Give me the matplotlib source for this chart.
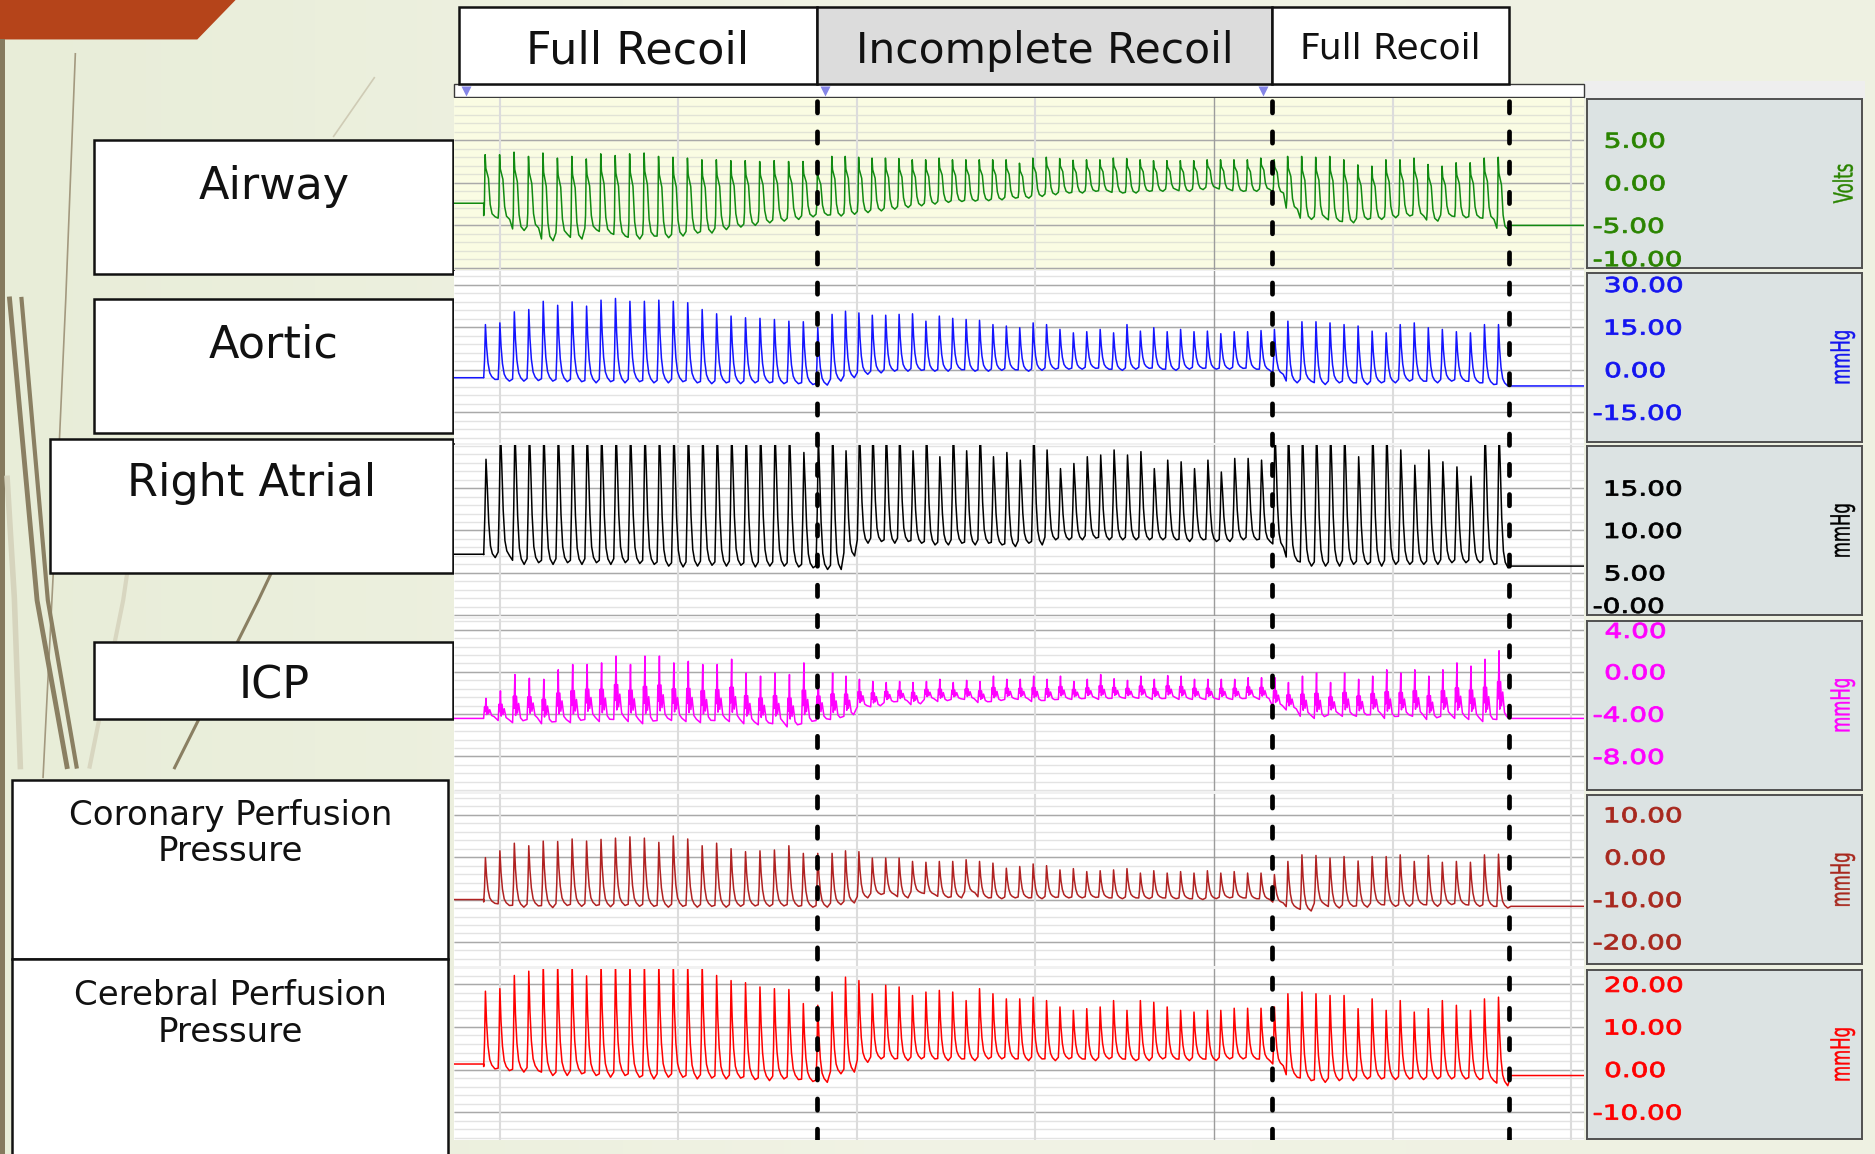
import numpy as np
import matplotlib
matplotlib.use("Agg")
import matplotlib.pyplot as plt
from matplotlib.patches import Rectangle, Polygon, PathPatch
from matplotlib.textpath import TextPath
from matplotlib.font_manager import FontProperties
from matplotlib.transforms import Affine2D

# ---------------- recording data ----------------
RECOIL_LABELS = ["Full Recoil", "Incomplete Recoil", "Full Recoil"]
RECOIL_EDGES = [-1.14, 8.87, 21.63, 28.26]          # s
BEAT_SPANS = [(-0.45, 9.26, 24), (9.26, 22.02, 34), (22.02, 28.31, 16)]  # start, end, beats
T_MIN, T_MAX = -1.27, 30.37

CHANNELS = ["Airway", "Aortic", "Right Atrial", "ICP",
            "Coronary Perfusion\nPressure", "Cerebral Perfusion\nPressure"]
UNITS = ["Volts", "mmHg", "mmHg", "mmHg", "mmHg", "mmHg"]
Y_LIMITS = [(-10.2, 9.95), (-25.8, 34.6), (-0.14, 20.1),
            (-11.27, 4.96), (-25.6, 14.9), (-16.6, 23.7)]
Y_TICKS = [[5, 0, -5, -10], [30, 15, 0, -15], [15, 10, 5, 0],
           [4, 0, -4, -8], [10, 0, -10, -20], [20, 10, 0, -10]]
Y_TICK_LABELS = [["5.00", "0.00", "-5.00", "-10.00"],
                 ["30.00", "15.00", "0.00", "-15.00"],
                 ["15.00", "10.00", "5.00", "-0.00"],
                 ["4.00", "0.00", "-4.00", "-8.00"],
                 ["10.00", "0.00", "-10.00", "-20.00"],
                 ["20.00", "10.00", "0.00", "-10.00"]]
MINOR_STEP = [1, 3, 1, 0.8, 2, 2]

# per-beat peak / trough values (full recoil, incomplete recoil, full recoil)
AIRWAY_PEAK = ([3.3, 3.3, 3.6, 3.1, 3.5, 2.9, 3.1, 2.8, 3.4, 3.2, 3.4, 3.5, 3.1, 3.0, 2.9, 2.7, 2.7, 2.6, 2.6, 2.5, 2.6, 2.5, 2.5, 2.0]
               + [3.1, 3.1, 3.0, 2.9, 2.9, 2.85, 2.7, 2.7, 2.9, 2.7, 2.7, 2.7, 2.7, 2.7, 2.3, 2.9, 3.0, 2.85, 2.65, 2.7, 2.7, 2.9, 2.85, 2.7, 2.6, 2.6, 2.6, 2.6, 2.7, 2.7, 2.7, 2.7, 2.9, 2.7]
               + [3.1, 3.1, 3.0, 3.1, 2.7, 2.1, 1.95, 2.7, 2.7, 2.9, 2.15, 1.95, 2.35, 2.35, 2.9, 3.0])
AIRWAY_TROUGH = ([-4.0, -4.3, -5.6, -5.3, -6.8, -6.05, -6.6, -5.5, -5.9, -6.25, -6.6, -6.25, -6.45, -6.25, -5.9, -5.9, -5.5, -5.2, -5.0, -4.7, -4.5, -4.3, -4.0, -3.8]
                 + [-3.9, -3.7, -3.5, -3.3, -3.1, -2.9, -2.7, -2.5, -2.3, -2.2, -2.15, -2.1, -2.0, -1.8, -1.8, -1.6, -1.4, -1.2, -1.2, -1.0, -1.0, -1.2, -1.2, -1.0, -1.0, -0.8, -1.0, -0.8, -0.6, -0.8, -1.0, -1.0, -0.8, -1.2]
                 + [-3.1, -4.3, -4.1, -4.5, -4.7, -4.3, -4.3, -4.1, -3.9, -3.9, -4.5, -3.9, -4.1, -4.1, -4.3, -5.5])

AORTIC_PEAK = ([15.9, 16.5, 20.4, 21.2, 24.1, 22.7, 23.9, 22.4, 24.5, 25.1, 24.1, 24.1, 24.5, 24.1, 23.6, 21.2, 19.7, 18.9, 18.3, 18.1, 17.7, 17.1, 16.9, 14.8]
               + [19.5, 20.6, 20.0, 19.2, 19.2, 19.5, 19.7, 17.1, 18.9, 18.1, 17.7, 17.4, 15.9, 15.4, 14.8, 16.5, 15.9, 14.2, 13.0, 13.4, 14.2, 13.0, 15.9, 13.6, 14.8, 13.4, 14.2, 13.4, 13.6, 12.7, 13.4, 13.4, 13.8, 14.2]
               + [17.1, 16.9, 16.9, 16.5, 15.9, 15.4, 13.6, 13.0, 15.9, 16.5, 14.8, 14.2, 13.4, 13.0, 15.9, 15.9])
AORTIC_TROUGH = ([-3.4, -4.0, -4.0, -3.8, -4.0, -4.2, -4.2, -4.6, -4.2, -4.6, -4.2, -4.6, -4.6, -4.2, -4.6, -4.9, -4.6, -4.9, -4.6, -4.6, -4.9, -4.9, -5.2, -5.4]
                 + [-4.0, -2.8, -1.6, -1.1, -0.5, -0.5, -0.2, -0.5, -0.5, 0.0, -0.5, -0.5, -0.2, 0.0, -0.5, -0.2, 0.2, 0.2, 0.2, 0.5, 0.2, -0.2, 0.2, 0.5, 0.2, -0.2, 0.2, 0.5, 0.2, 0.2, 0.5, 0.2, -0.2, -1.6]
                 + [-4.6, -4.0, -5.2, -4.6, -4.6, -5.2, -4.6, -4.6, -4.0, -4.0, -4.6, -4.0, -4.0, -4.6, -5.2, -5.7])

RA_PEAK = ([18.4, 22, 22, 22, 22, 22, 22, 22, 22, 22, 22, 22, 22, 22, 22, 22, 22, 22, 22, 22, 22, 22, 19.2, 21]
           + [22, 19.4, 22, 22, 22, 22, 19.4, 22, 18.7, 22, 19.4, 22, 18.7, 19.2, 18.3, 22, 19.5, 17.3, 17.9, 18.7, 18.9, 19.5, 18.9, 19.3, 17.3, 18.3, 18.1, 17.3, 18.3, 16.9, 18.5, 18.5, 18.3, 22]
           + [22, 22, 22, 22, 22, 18.7, 22, 22, 19.5, 17.7, 19.5, 18.1, 17.5, 16.4, 22, 22])
RA_TROUGH = ([6.8, 7.0, 6.0, 6.2, 6.0, 6.2, 6.0, 6.2, 6.0, 6.2, 6.1, 6.0, 5.8, 5.7, 5.8, 5.9, 5.8, 5.9, 5.7, 5.8, 5.8, 5.7, 5.6, 5.4]
             + [5.4, 7.0, 8.5, 8.7, 8.5, 8.7, 8.5, 8.3, 8.3, 8.5, 8.3, 8.5, 8.3, 8.1, 8.5, 8.3, 8.9, 8.9, 8.9, 9.1, 8.9, 8.9, 8.9, 8.9, 8.9, 8.9, 8.7, 8.9, 8.7, 8.7, 8.9, 8.9, 8.7, 8.0]
             + [6.4, 5.8, 5.8, 5.8, 6.0, 6.0, 5.8, 6.0, 6.0, 6.0, 6.0, 6.2, 6.2, 6.2, 6.0, 5.6])

ICP_PEAK = ([-2.5, -1.8, -0.25, -0.6, -0.7, 0.2, 0.7, 0.7, 0.85, 1.5, 0.7, 1.5, 1.5, 0.85, 1.0, 0.7, 0.7, 1.2, -0.1, -0.4, -0.1, -0.25, 0.85, -0.4]
            + [-0.1, -0.4, -0.7, -0.9, -1.0, -0.9, -1.0, -0.9, -0.7, -1.0, -0.8, -0.9, -0.4, -0.7, -0.7, -0.4, -0.7, -0.4, -0.9, -0.7, -0.25, -0.65, -0.8, -0.4, -0.7, -0.35, -0.4, -0.7, -0.7, -0.7, -0.7, -0.55, -0.55, -0.55]
            + [-1.0, -0.4, -0.1, -1.0, -0.1, -0.7, -0.4, 0.2, -0.1, 0.2, -0.4, 0.2, 0.85, 0.55, 1.2, 2.0])
ICP_TROUGH = ([-4.3, -4.6, -4.8, -4.5, -4.9, -4.7, -4.8, -4.5, -4.7, -4.5, -4.7, -4.9, -4.6, -4.6, -4.7, -4.8, -4.6, -4.7, -4.9, -5.0, -4.9, -5.2, -4.9, -4.6]
              + [-4.5, -4.2, -3.3, -3.3, -2.9, -2.8, -3.1, -2.6, -2.8, -2.6, -2.6, -2.9, -2.8, -2.6, -2.6, -2.8, -2.7, -2.6, -2.6, -2.5, -2.6, -2.5, -2.5, -2.5, -2.6, -2.5, -2.6, -2.6, -2.6, -2.6, -2.6, -2.5, -2.6, -3.3]
              + [-3.6, -4.2, -4.4, -4.05, -4.2, -4.2, -4.05, -4.4, -4.2, -4.2, -4.5, -4.2, -4.4, -4.5, -4.7, -4.5])

CPP_PEAK = ([-0.1, 1.5, 3.3, 2.7, 3.8, 3.7, 4.3, 3.8, 4.2, 4.5, 4.8, 4.5, 3.5, 5.0, 4.3, 2.7, 3.3, 2.0, 1.3, 1.5, 1.7, 2.7, 0.9, 0.9]
            + [0.9, 1.5, 1.3, -0.2, -0.2, -0.2, -1.0, -1.2, -1.0, -1.0, -0.6, -1.0, -1.4, -2.6, -2.2, -1.6, -2.0, -3.0, -2.7, -3.4, -3.2, -3.0, -2.7, -3.75, -3.2, -3.75, -3.4, -3.75, -3.2, -3.75, -3.4, -3.75, -3.75, -4.1]
            + [-1.0, 0.55, 0.4, -0.2, 0.15, -0.9, 0.15, 0.15, 0.55, -1.0, 0.4, -1.2, -1.0, -1.2, 0.55, 0.7])
CPP_TROUGH = ([-10.9, -11.4, -11.8, -11.5, -11.9, -11.4, -11.6, -11.4, -11.7, -11.4, -11.6, -11.6, -11.8, -11.6, -11.8, -11.6, -11.8, -11.6, -11.5, -11.6, -11.5, -11.6, -11.8, -11.8]
              + [-11.2, -10.8, -9.6, -8.8, -8.8, -9.6, -8.4, -8.8, -9.5, -9.6, -8.4, -9.6, -9.8, -9.6, -9.6, -9.8, -9.5, -9.6, -9.6, -9.5, -9.6, -9.8, -9.6, -9.8, -9.6, -9.8, -9.8, -10.0, -9.8, -9.6, -9.6, -9.8, -10.0, -10.8]
              + [-12.0, -12.7, -11.2, -12.0, -11.6, -11.8, -11.2, -11.6, -11.6, -11.2, -11.6, -11.2, -11.2, -11.6, -11.6, -12.0])

CEPP_PEAK = ([18.4, 19.0, 22.1, 23.1, 25, 25, 25, 22.0, 25, 25, 25, 25, 25, 25, 25, 25, 22.1, 20.9, 20.4, 19.4, 19.0, 18.8, 15.5, 15.1]
             + [18.2, 21.7, 20.9, 17.8, 19.8, 19.4, 17.4, 18.2, 18.6, 18.2, 16.2, 19.0, 17.8, 16.6, 16.6, 17.0, 16.2, 14.7, 13.9, 14.3, 14.7, 16.2, 13.9, 16.2, 15.8, 14.7, 13.9, 13.5, 13.9, 13.9, 14.4, 14.4, 14.4, 14.7]
             + [17.8, 18.2, 17.8, 17.4, 17.4, 14.3, 16.6, 13.9, 16.2, 13.5, 14.3, 16.2, 15.1, 13.9, 16.6, 17.0])
CEPP_TROUGH = ([0.15, -0.25, -0.6, -0.25, -1.4, -1.4, -1.0, -1.4, -1.8, -1.4, -1.8, -2.2, -1.8, -1.8, -2.2, -2.0, -2.2, -2.0, -2.35, -2.6, -2.2, -2.35, -2.8, -3.0]
               + [-1.0, -0.6, 1.7, 2.5, 2.5, 2.1, 2.5, 2.5, 2.1, 2.5, 2.1, 2.5, 2.5, 2.5, 2.1, 2.5, 2.1, 2.5, 2.5, 2.1, 2.5, 2.5, 2.1, 2.1, 2.5, 2.5, 2.1, 2.5, 2.1, 2.5, 2.5, 2.5, 2.1, 0.9]
               + [-1.8, -2.6, -3.0, -2.6, -2.6, -2.2, -2.2, -2.35, -2.2, -2.35, -2.2, -2.2, -2.2, -2.35, -2.6, -3.8])

PEAKS = [AIRWAY_PEAK, AORTIC_PEAK, RA_PEAK, ICP_PEAK, CPP_PEAK, CEPP_PEAK]
TROUGHS = [AIRWAY_TROUGH, AORTIC_TROUGH, RA_TROUGH, ICP_TROUGH, CPP_TROUGH, CEPP_TROUGH]
PRE_LEVEL = [-2.4, -2.8, 7.2, -4.4, -10.0, 1.3]
POST_LEVEL = [-5.0, -5.7, 5.8, -4.4, -11.6, -1.4]

# ---------------- styling ----------------
TRACE_COLORS = ["#118a11", "#1414ff", "#000000", "#ff00ff", "#b02222", "#ff0000"]
LABEL_COLORS = ["#2a8400", "#1414f0", "#000000", "#ff00ff", "#a8281e", "#ff0000"]

# pulse outlines: fraction of beat interval -> fraction of peak-trough swing
SHAPE_AIRWAY = ([0, 0.05, 0.10, 0.15, 0.24, 0.33, 0.45, 0.58, 0.8],
                [0.02, 0.2, 1.0, 0.78, 0.7, 0.62, 0.2, 0.05, 0.0])
SHAPE_PRESSURE = ([0, 0.06, 0.12, 0.2, 0.3, 0.42, 0.56, 0.78], [0.03, 0.35, 1.0, 0.6, 0.3, 0.12, 0.05, 0.0])
SHAPE_RA = ([0, 0.08, 0.16, 0.25, 0.35, 0.47, 0.6, 0.8], [0.03, 0.42, 1.0, 0.72, 0.36, 0.12, 0.04, 0.0])
SHAPE_ICP = ([0, 0.06, 0.10, 0.16, 0.21, 0.27, 0.34, 0.42, 0.55, 0.72],
             [0.0, 0.55, 0.3, 1.0, 0.15, 0.55, 0.2, 0.4, 0.1, 0.04])
SHAPES = [SHAPE_AIRWAY, SHAPE_PRESSURE, SHAPE_RA, SHAPE_ICP, SHAPE_PRESSURE, SHAPE_PRESSURE]

W, H = 1568.0, 965.0
FW, FH = 1875, 1154
ROW_TOPS = [82, 227, 372, 518, 664, 810]
ROW_H = 143.5
X_TRACE = (380, 1325)
X_PANEL = (1327, 1557)


def frac(x0, y0, x1, y1):
    return [x0 / W, 1 - y1 / H, (x1 - x0) / W, (y1 - y0) / H]


def to_px(x, y):
    return x * FW / W, (H - y) * FH / H


def build_trace(peaks, troughs, pre, post, shape):
    tf, gf = np.array(shape[0]), np.array(shape[1])
    xs, ys = [T_MIN, BEAT_SPANS[0][0]], [pre, pre]
    k = 0
    for a, b, n in BEAT_SPANS:
        step = (b - a) / n
        for i in range(n):
            t0 = a + i * step
            xs.extend(t0 + tf * step)
            ys.extend(troughs[k] + gf * (peaks[k] - troughs[k]))
            k += 1
    xs += [BEAT_SPANS[-1][1], T_MAX]
    ys += [post, post]
    return np.array(xs), np.array(ys)


fig = plt.figure(figsize=(FW / 100, FH / 100), dpi=100)
fp = FontProperties(family="DejaVu Sans")


def stext(x, y, s, size, color, sx=1.0, ha="left", va="center", rot=0, stroke=0.6):
    # text drawn as a path so it can be widened like the recorder's screen font
    tp = TextPath((0, 0), s, size=size, prop=fp)
    bb = tp.get_extents()
    cx = {"left": bb.x0, "center": (bb.x0 + bb.x1) / 2, "right": bb.x1}[ha]
    cy = {"bottom": bb.y0, "center": (bb.y0 + bb.y1) / 2, "top": bb.y1}[va]
    tr = Affine2D().translate(-cx, -cy).rotate_deg(rot).scale(sx, 1).translate(x, y)
    fig.add_artist(PathPatch(tp, transform=tr, fc=color, ec=color, lw=stroke, zorder=20))


# background slide
bg = fig.add_axes([0, 0, 1, 1], zorder=0)
bg.set_xlim(0, W)
bg.set_ylim(H, 0)
bg.axis("off")
grad = np.linspace(0, 1, 256)[None, :]
bg.imshow(grad, extent=(0, W, H, 0), aspect="auto", cmap=matplotlib.colors.LinearSegmentedColormap.from_list(
    "slide", ["#e8edd8", "#f1f3e5", "#eef1e2"]), zorder=0)
bg.add_patch(Polygon([(0, 0), (197, 0), (165, 33), (0, 33)], closed=True, fc="#b5441a", ec="none", zorder=1))
bg.add_patch(Rectangle((0, 33), 4.5, H, fc="#857a5e", ec="none", zorder=1))
# grass strokes
bg.plot([63, 55, 46, 36], [45, 250, 450, 650], color="#a3997f", lw=1.2, zorder=1)
bg.plot([6, 12, 17], [400, 500, 641], color="#d6d4bd", lw=4, zorder=1)
bg.plot([118, 103, 75], [400, 502, 641], color="#d8d6c0", lw=3, zorder=1)
bg.plot([8, 31, 56], [250, 502, 641], color="#8a7f62", lw=3.5, zorder=1)
bg.plot([18, 40, 64], [250, 502, 641], color="#8a7f62", lw=3.0, zorder=1)
bg.plot([255, 216, 146], [420, 502, 642], color="#8a7f62", lw=2.2, zorder=1)
bg.plot([313, 279], [65, 114], color="#cfcbb5", lw=1.2, zorder=1)

# chart frame
bg.add_patch(Rectangle((X_TRACE[0], 70), X_TRACE[1] - X_TRACE[0], 953 - 70, fc="#f1f1f1", ec="none", zorder=2))
bg.add_patch(Rectangle((X_TRACE[0], 70), X_TRACE[1] - X_TRACE[0], 11.5, fc="white", ec="#3a3a3a", lw=1.0, zorder=3))
bg.add_patch(Rectangle((X_TRACE[1], 68), 235, 15, fc="#eeeeee", ec="none", zorder=2))
for xm in [390, 690, 1056]:
    bg.plot(xm, 76, marker="v", ms=7, color="#8585e6", mec="none", zorder=4)

# left labels
label_boxes = [(79, 117, 379, 229), (79, 250, 379, 362), (42, 367, 379, 479),
               (79, 537, 379, 601), (10, 652, 375, 802), (10, 802, 375, 975)]
for (x0, y0, x1, y1) in label_boxes:
    bg.add_patch(Rectangle((x0, y0), x1 - x0, y1 - y0, fc="white", ec="#111111", lw=1.8, zorder=5))
for i, ybase in enumerate([166, 299, 415, 584]):
    x0, _, x1, _ = label_boxes[i]
    bg.text((x0 + x1) / 2, ybase, CHANNELS[i], ha="center", va="baseline",
            fontsize=32, color="#111111", zorder=6)
for i, yc in zip([4, 5], [697, 848]):
    x0, _, x1, _ = label_boxes[i]
    bg.text((x0 + x1) / 2, yc, CHANNELS[i], ha="center", va="center", fontsize=24.5,
            color="#111111", linespacing=1.15, zorder=6)

# trace rows
trace_axes = []
for i in range(6):
    top = ROW_TOPS[i]
    ax = fig.add_axes(frac(X_TRACE[0], top, X_TRACE[1], top + ROW_H), zorder=3)
    ax.set_facecolor("#fafce3" if i == 0 else "white")
    lo, hi = Y_LIMITS[i]
    ax.set_xlim(T_MIN, T_MAX)
    ax.set_ylim(lo, hi)
    step = MINOR_STEP[i]
    minors = np.arange(np.ceil(lo / step) * step, hi, step)
    ax.hlines(minors, T_MIN, T_MAX, color="#e1e3d6" if i == 0 else "#e3e3e3", lw=1.0, zorder=1)
    ax.hlines(Y_TICKS[i], T_MIN, T_MAX, color="#a9a9a9", lw=1.0, zorder=1)
    for tg in range(0, 31, 5):
        ax.axvline(tg, color="#9c9c9c" if tg == 20 else "#dcdcdc", lw=1.0 if tg == 20 else 1.5, zorder=1)
    xs, ys = build_trace(PEAKS[i], TROUGHS[i], PRE_LEVEL[i], POST_LEVEL[i], SHAPES[i])
    ax.plot(xs, ys, color=TRACE_COLORS[i], lw=1.1, zorder=3)
    for sp in ax.spines.values():
        sp.set_visible(False)
    ax.set_xticks([])
    ax.set_yticks([])
    trace_axes.append(ax)

    # scale panel
    pax = fig.add_axes(frac(X_PANEL[0], top + 1, X_PANEL[1], top + ROW_H - 1), zorder=3)
    pax.set_facecolor("#dce3e3")
    pax.set_xticks([])
    pax.set_yticks([])
    for sp in pax.spines.values():
        sp.set_color("#505050")
        sp.set_linewidth(1.4)

    ybot = to_px(0, top + ROW_H)[1]
    ytop = to_px(0, top)[1]
    for v, s in zip(Y_TICKS[i], Y_TICK_LABELS[i]):
        py = ax.transData.transform((0, v))[1]
        py = min(max(py, ybot + 11), ytop - 11)
        xl = 1343 - (10 if s.startswith("-") else 0)
        stext(to_px(xl, 0)[0], py, s, 20.5, LABEL_COLORS[i], sx=1.36)
    ux, uy = to_px(1541, top + ROW_H / 2)
    stext(ux, uy, UNITS[i], 16.5, LABEL_COLORS[i], sx=1.6, ha="center", va="center", rot=90, stroke=0.3)

# recoil phase headers and markers
hdr = fig.add_axes(frac(X_TRACE[0], 6, X_TRACE[1], 70), zorder=6)
hdr.set_xlim(T_MIN, T_MAX)
hdr.set_ylim(0, 1)
hdr.axis("off")
hdr_sizes = [32, 30.5, 26]
hdr_base = [0.27, 0.27, 0.33]
for j, lab in enumerate(RECOIL_LABELS):
    a, b = RECOIL_EDGES[j], RECOIL_EDGES[j + 1]
    hdr.add_patch(Rectangle((a, 0), b - a, 1, fc="#dcdcdc" if j == 1 else "white",
                            ec="#111111", lw=1.8, clip_on=False))
    hdr.text((a + b) / 2, hdr_base[j], lab, ha="center", va="baseline", fontsize=hdr_sizes[j], color="#111111")

ov = fig.add_axes(frac(X_TRACE[0], 70, X_TRACE[1], 953), zorder=7)
ov.set_xlim(T_MIN, T_MAX)
ov.set_ylim(0, 1)
ov.axis("off")
for e in RECOIL_EDGES[1:]:
    ov.axvline(e, color="black", lw=3.4, linestyle=(0, (2.4, 4.0)), dash_capstyle="round")

fig.savefig("out.png", dpi=100)
